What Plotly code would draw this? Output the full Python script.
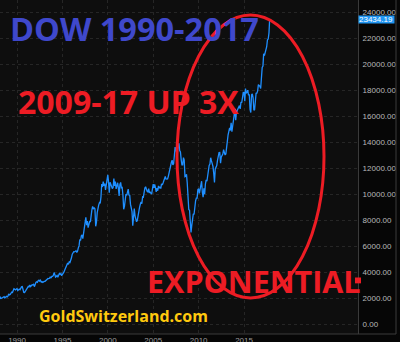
import pandas as pd
import plotly.graph_objects as go

# Approximate month-end DOW closes, Jan 1988 .. Oct 2017
dow_1988 = [1958, 2071, 1988, 2032, 2031, 2141, 2128, 2032, 2113, 2148, 2114, 2169]
dow_1989 = [2342, 2258, 2293, 2419, 2480, 2440, 2661, 2737, 2693, 2645, 2706, 2753]
dow_1990 = [2591, 2627, 2707, 2657, 2877, 2881, 2905, 2615, 2453, 2442, 2560, 2634]
dow_1991 = [2736, 2882, 2914, 2888, 3028, 2907, 3025, 3044, 3017, 3070, 2895, 3169]
dow_1992 = [3224, 3268, 3236, 3359, 3397, 3319, 3394, 3257, 3272, 3226, 3306, 3301]
dow_1993 = [3310, 3371, 3435, 3428, 3527, 3516, 3540, 3651, 3555, 3681, 3684, 3754]
dow_1994 = [3978, 3832, 3636, 3682, 3758, 3625, 3765, 3913, 3843, 3908, 3739, 3834]
dow_1995 = [3844, 4011, 4158, 4321, 4465, 4556, 4708, 4611, 4789, 4756, 5075, 5117]
dow_1996 = [5395, 5486, 5588, 5569, 5643, 5655, 5529, 5616, 5882, 6029, 6522, 6448]
dow_1997 = [6813, 6878, 6584, 7009, 7331, 7673, 8223, 7622, 7945, 7442, 7823, 7908]
dow_1998 = [7907, 8546, 8800, 9063, 8900, 8952, 8883, 7539, 7843, 8592, 9117, 9181]
dow_1999 = [9359, 9307, 9786, 10789, 10560, 10971, 10655, 10829, 10337, 10730, 10878, 11497]
dow_2000 = [10941, 10128, 10922, 10734, 10522, 10448, 10522, 11215, 10651, 10971, 10415, 10787]
dow_2001 = [10887, 10495, 9879, 10735, 10912, 10502, 10523, 9950, 8848, 9075, 9852, 10022]
dow_2002 = [9920, 10106, 10404, 9946, 9925, 9243, 8737, 8664, 7592, 8397, 8896, 8342]
dow_2003 = [8054, 7891, 7992, 8480, 8850, 8985, 9234, 9416, 9275, 9801, 9782, 10454]
dow_2004 = [10488, 10584, 10358, 10226, 10188, 10435, 10140, 10174, 10080, 10027, 10428, 10783]
dow_2005 = [10490, 10766, 10504, 10193, 10467, 10275, 10641, 10482, 10569, 10440, 10806, 10718]
dow_2006 = [10865, 10993, 11109, 11367, 11168, 11150, 11186, 11381, 11679, 12081, 12222, 12463]
dow_2007 = [12622, 12269, 12354, 13063, 13628, 13409, 13212, 13358, 13896, 13930, 13372, 13265]
dow_2008 = [12650, 12266, 12263, 12820, 12638, 11350, 11378, 11544, 10851, 9325, 8829, 8776]
dow_2009 = [8001, 7063, 7609, 8168, 8500, 8447, 9172, 9496, 9712, 9713, 10345, 10428]
dow_2010 = [10067, 10325, 10857, 11009, 10137, 9774, 10466, 10015, 10788, 11118, 11006, 11578]
dow_2011 = [11892, 12226, 12320, 12811, 12570, 12414, 12143, 11614, 10913, 11955, 12046, 12218]
dow_2012 = [12633, 12952, 13212, 13214, 12393, 12880, 13009, 13091, 13437, 13096, 13026, 13104]
dow_2013 = [13861, 14054, 14579, 14840, 15116, 14910, 15500, 14810, 15130, 15546, 16086, 16577]
dow_2014 = [15699, 16322, 16458, 16581, 16717, 16827, 16563, 17098, 17043, 17391, 17828, 17823]
dow_2015 = [17165, 18133, 17776, 17841, 18011, 17620, 17690, 16528, 16285, 17664, 17720, 17425]
dow_2016 = [16466, 16517, 17685, 17774, 17787, 17930, 18432, 18401, 18308, 18142, 19124, 19763]
dow_2017 = [19864, 20812, 20663, 20941, 21009, 21350, 21891, 21948, 22405, 23434.19]

values = (dow_1988 + dow_1989 + dow_1990 + dow_1991 + dow_1992 + dow_1993 + dow_1994 +
          dow_1995 + dow_1996 + dow_1997 + dow_1998 + dow_1999 + dow_2000 + dow_2001 +
          dow_2002 + dow_2003 + dow_2004 + dow_2005 + dow_2006 + dow_2007 + dow_2008 +
          dow_2009 + dow_2010 + dow_2011 + dow_2012 + dow_2013 + dow_2014 + dow_2015 +
          dow_2016 + dow_2017)
dates = list(pd.date_range("1988-01-31", periods=len(values) - 1, freq="ME"))
dates.append(pd.Timestamp("2017-10-27"))

year_ticks = ["1990", "1995", "2000", "2005", "2010", "2015"]
y_ticks = list(range(0, 24001, 2000))
last_value = values[-1]

fig = go.Figure()
fig.add_trace(go.Scatter(x=dates, y=values, mode="lines",
                         line=dict(color="#1f8fff", width=1.3), hoverinfo="skip"))

grid = "#262626"
fig.update_layout(
    width=400, height=342,
    margin=dict(l=0, r=42, t=0, b=8, autoexpand=False),
    paper_bgcolor="#060606", plot_bgcolor="#0e0e0e",
    showlegend=False,
    xaxis=dict(range=["1988-02-16", "2027-07-21"], automargin=False,
               tickvals=[y + "-01-01" for y in year_ticks], ticktext=year_ticks,
               showgrid=True, gridcolor=grid, griddash="dot", gridwidth=1,
               zeroline=False, showline=False, ticks="", ticklabelstandoff=0,
               tickfont=dict(family="Liberation Sans", size=8, color="#9a9a9a")),
    yaxis=dict(side="right", range=[-746, 24946], automargin=False,
               tickvals=y_ticks, tickformat=".2f",
               showgrid=True, gridcolor=grid, griddash="dot", gridwidth=1,
               zeroline=False, showline=True, linecolor="#3a3a3a", linewidth=1,
               ticks="", ticklabelstandoff=2,
               tickfont=dict(family="Liberation Sans", size=8, color="#b8b8b8")),
)

# frame lines
fig.add_shape(type="line", xref="paper", yref="paper", x0=396/358, x1=396/358, y0=0, y1=1,
              line=dict(color="#3a3a3a", width=1))
fig.add_shape(type="line", xref="paper", yref="paper", x0=0, x1=396/358, y0=0, y1=0,
              line=dict(color="#3a3a3a", width=1))
# small red marker on axis
fig.add_shape(type="rect", xref="paper", yref="y", x0=355/358, x1=361/358, y0=3150, y1=3600,
              fillcolor="#ed1c24", line=dict(width=0))

# ellipse
fig.add_shape(type="circle", xref="paper", yref="paper",
              x0=177/358, x1=324/358, y0=1 - 298/334, y1=1 - 15/334,
              line=dict(color="#ed1c24", width=3))

# price label
fig.add_annotation(xref="paper", yref="y", x=1.0, y=last_value, xanchor="left", yanchor="middle",
                   text=f"{last_value:.2f}", showarrow=False, bgcolor="#2196f3",
                   width=35, height=7, align="left", borderpad=0,
                   font=dict(family="Liberation Sans", size=8, color="#ffffff"))

def label(text, x_px, y_px, size, color):
    fig.add_annotation(xref="paper", yref="paper", x=x_px/358, y=1 - y_px/334,
                       xanchor="left", yanchor="middle", text=text, showarrow=False,
                       font=dict(family="Open Sans", size=size, color=color, weight="bold"))

label("DOW 1990-2017", 8, 29, 32.5, "#3f48cc")
label("2009-17 UP 3X", 16, 101, 32, "#ed1c24")
label("EXPONENTIAL", 145, 281, 30.5, "#ed1c24")
label("GoldSwitzerland.com", 37, 316, 16, "#ffc90e")

fig.write_html("out.html")
